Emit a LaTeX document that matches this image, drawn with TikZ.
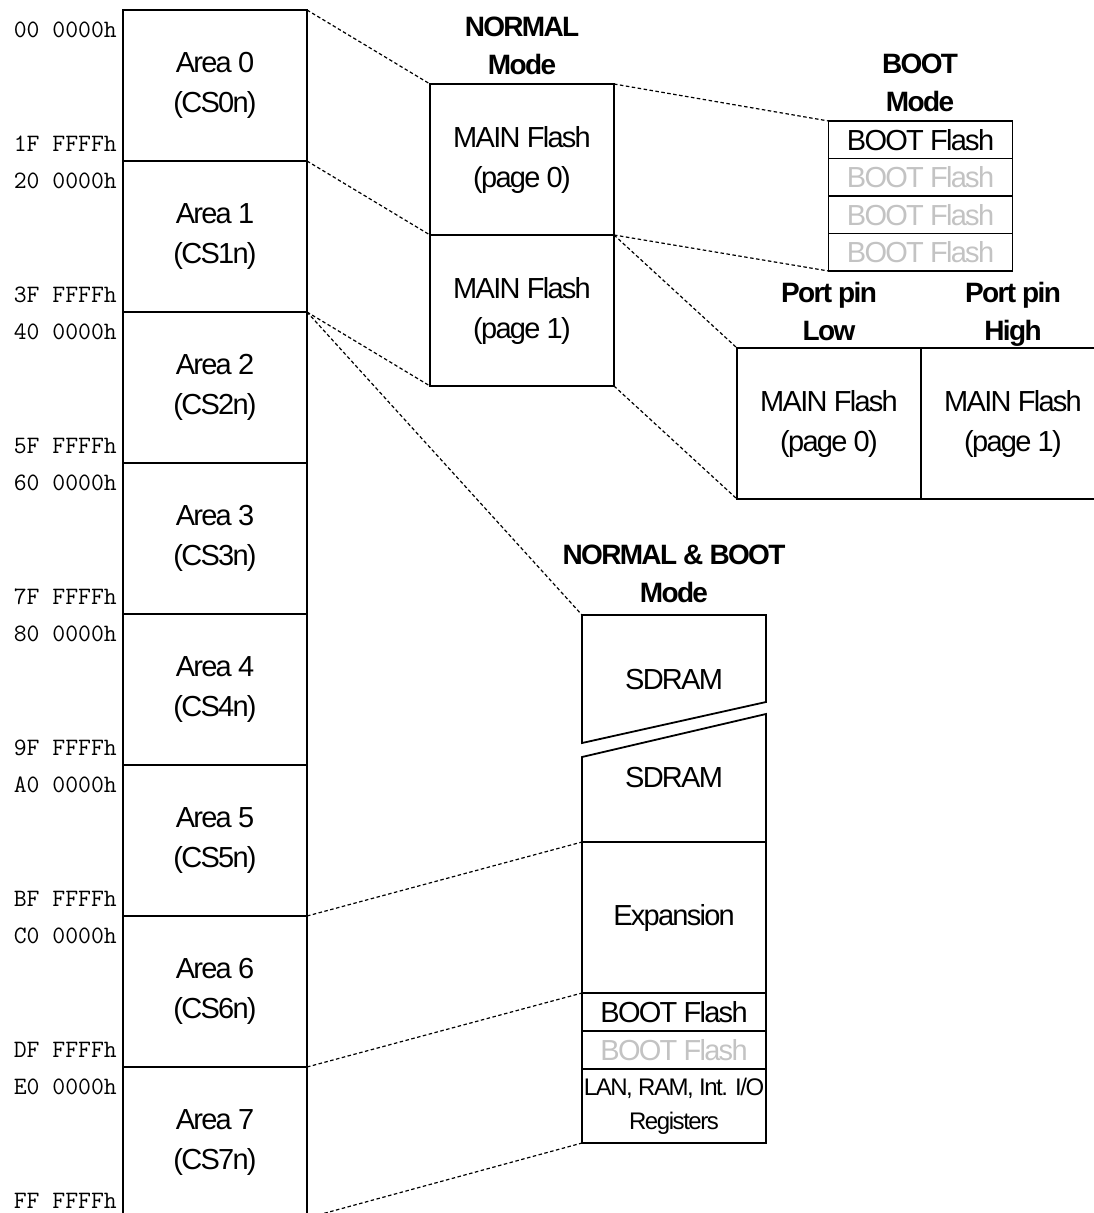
\documentclass[tikz,border=0pt]{standalone}
\usepackage{fontspec}
\setmainfont{Liberation Sans}[LetterSpace=-6]
\usepackage{tikz}
\definecolor{bootgray}{RGB}{195,195,195}
\tikzset{
  membox/.style={draw, line width=1.8pt, outer sep=0pt, inner sep=0pt,
    minimum width=184pt, align=center, font=\fontsize{29}{40}\selectfont},
  addr/.style={font=\ttfamily\fontsize{25}{25}\selectfont, inner sep=0pt},
  modehead/.style={font=\bfseries\fontsize{28}{38}\selectfont, align=center, inner sep=0pt, anchor=north},
  zoomline/.style={line width=1.2pt, dash pattern=on 3.5pt off 2.5pt},
}

\begin{document}
\begin{tikzpicture}[x=1pt,y=-1pt]
\useasboundingbox (0,0) rectangle (1094,1213);

% address map, areas 0..7
\foreach \i/\first/\last in {0/00/1F,1/20/3F,2/40/5F,3/60/7F,4/80/9F,5/A0/BF,6/C0/DF,7/E0/FF}{
  \node[membox, minimum height=151pt] (area\i) at (215,{85.5+151*\i}) {Area \i\\(CS\i n)};
  \node[addr, anchor=base east] (start\i) at (117,{37+151*\i}) {\first\ 0000h};
  \node[addr, anchor=base east] (end\i) at (117,{151+151*\i}) {\last\ FFFFh};
}

% NORMAL mode
\node[modehead] (normhead) at (522,17) {NORMAL\\Mode};
\node[membox, minimum height=151pt] (main0) at (522,159.5) {MAIN Flash\\(page 0)};
\node[membox, minimum height=151pt] (main1) at (522,310.5) {MAIN Flash\\(page 1)};

% BOOT mode
\node[modehead] (boothead) at (920,53.5) {BOOT\\Mode};
\foreach \k/\col in {0/black,1/bootgray,2/bootgray,3/bootgray}
  \node[membox, minimum height=37.5pt, text=\col] (boot\k) at (920.5,{139.75+37.5*\k}) {BOOT Flash};

% port pin
\node[modehead] (lowhead) at (829,282.5) {Port pin\\Low};
\node[modehead] (highhead) at (1013,282.5) {Port pin\\High};
\node[membox, minimum height=151pt] (low) at (829,423.5) {MAIN Flash\\(page 0)};
\node[membox, minimum height=151pt] (high) at (1013,423.5) {MAIN Flash\\(page 1)};

% NORMAL & BOOT mode
\node[modehead] (bothhead) at (674,545) {NORMAL \& BOOT\\Mode};
\coordinate (sdtop) at (582,615);
\draw[line width=1.8pt] (sdtop) -- (766,615) -- (766,702) -- (582,743) -- cycle;
\draw[line width=1.8pt] (582,757) -- (766,714) -- (766,842) -- (582,842) -- cycle;
\node[font=\fontsize{29}{40}\selectfont] (sdram0) at (674,680) {SDRAM};
\node[font=\fontsize{29}{40}\selectfont] (sdram1) at (674,778) {SDRAM};
\node[membox, minimum height=151pt] (expan) at (674,917.5) {Expansion};
\node[membox, minimum height=38pt] (bflash0) at (674,1012) {BOOT Flash};
\node[membox, minimum height=38pt, text=bootgray] (bflash1) at (674,1050) {BOOT Flash};
\node[membox, minimum height=74pt, font=\fontsize{24}{34}\selectfont] (lan) at (674,1106) {LAN, RAM, Int. I/O\\Registers};

% zoom lines
\draw[zoomline] (area0.north east) -- (main0.north west);
\draw[zoomline] (area1.north east) -- (main0.south west);
\draw[zoomline] (area2.north east) -- (main1.south west);
\draw[zoomline] (area2.north east) -- (sdtop);
\draw[zoomline] (area6.north east) -- (expan.north west);
\draw[zoomline] (area7.north east) -- (bflash0.north west);
\draw[zoomline] (area7.south east) -- (lan.south west);
\draw[zoomline] (main0.north east) -- (boot0.north west);
\draw[zoomline] (main1.north east) -- (boot3.south west);
\draw[zoomline] (main1.north east) -- (low.north west);
\draw[zoomline] (main1.south east) -- (low.south west);
\end{tikzpicture}
\end{document}
